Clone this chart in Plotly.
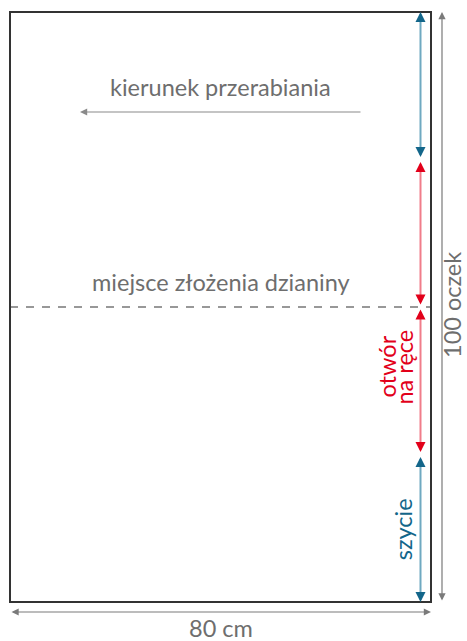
import plotly.graph_objects as go

# ---- data ----
width_cm = 80
height_stitches = 100
bounds = [0, 25, 50, 75, 100]          # vertical segment boundaries (stitches)
seg_kind = ["seam", "hole", "hole", "seam"]
fold_at = 50
width_label = "80 cm"
height_label = "100 oczek"
direction_label = "kierunek przerabiania"
fold_label = "miejsce złożenia dzianiny"
hole_label_lines = ["otwór", "na ręce"]
seam_label = "szycie"

# ---- styles ----
FONT = "Lato"
FS = 23.5
GRAY_TXT = "#6e6e6e"
GRAY_LN = "#7a7a7a"
BORDER = "#333333"
BLUE_DARK = "#13668a"
BLUE_LIGHT = "#6fa9c1"
RED_DARK = "#e2001a"
RED_LIGHT = "#f07d8a"

# pixel mapping
W, H = 467, 641
px_l, px_r, px_t, px_b = 10, 431, 12, 602
sx = (px_r - px_l) / width_cm
sy = (px_b - px_t) / height_stitches
xr = [-px_l / sx, width_cm + (W - px_r) / sx]
yr = [-(H - px_b) / sy, height_stitches + px_t / sy]

def dx(p):
    return p / sx

def dy(p):
    return p / sy

fig = go.Figure()
shapes = []
ann = []

# rectangle outline
shapes.append(dict(type="rect", x0=0, x1=width_cm, y0=0, y1=height_stitches,
                   line=dict(color=BORDER, width=2), layer="above"))
# fold line
fig.add_trace(go.Scatter(x=[0, width_cm], y=[fold_at, fold_at], mode="lines",
                         line=dict(color="#777777", width=1.3, dash="8px,8px"),
                         hoverinfo="skip", showlegend=False))

# segment arrows
arrow_x = width_cm - dx(10.5)
inset = dy(2.5)
for i, kind in enumerate(seg_kind):
    lo, hi = bounds[i], bounds[i + 1]
    lo_t = lo + (inset if i > 0 else 0)
    hi_t = hi - (inset if i < len(seg_kind) - 1 else 0)
    dark = BLUE_DARK if kind == "seam" else RED_DARK
    light = BLUE_LIGHT if kind == "seam" else RED_LIGHT
    fig.add_trace(go.Scatter(x=[arrow_x, arrow_x], y=[lo_t + dy(3), hi_t - dy(3)],
                             mode="lines", line=dict(color=light, width=2),
                             hoverinfo="skip", showlegend=False))
    for tip, off in ((hi_t, 5), (lo_t, -5)):
        ann.append(dict(x=arrow_x, y=tip, ax=0, ay=off, xref="x", yref="y",
                        axref="pixel", ayref="pixel", text="", showarrow=True,
                        arrowhead=2, arrowsize=1.0, arrowwidth=2, arrowcolor=dark))

# hole label (two rotated lines)
hole_mid = (bounds[1] + bounds[3]) / 2 - dy(60)
for j, line in enumerate(hole_label_lines):
    ann.append(dict(x=arrow_x - dx(34 - 17 * j), y=hole_mid,
                    text=line, showarrow=False, textangle=-90,
                    font=dict(family=FONT, size=FS, color=RED_DARK),
                    xanchor="center", yanchor="middle"))
# seam label
ann.append(dict(x=arrow_x - dx(17.5), y=(bounds[0] + bounds[1]) / 2 - dy(1),
                text=seam_label, showarrow=False, textangle=-90,
                font=dict(family=FONT, size=FS, color=BLUE_DARK),
                xanchor="center", yanchor="middle"))

# height dimension
hx = width_cm + dx(11)
ann.append(dict(x=hx, y=height_stitches, ax=hx, ay=0, xref="x", yref="y",
                axref="x", ayref="y", text="", showarrow=True, arrowside="end+start",
                arrowhead=2, arrowsize=1.2, arrowwidth=1.2, arrowcolor=GRAY_LN))
ann.append(dict(x=width_cm + dx(21), y=height_stitches / 2 + dy(2), text=height_label,
                showarrow=False, textangle=-90, borderpad=0,
                font=dict(family=FONT, size=FS, color=GRAY_TXT)))

# width dimension
wy = -dy(10)
ann.append(dict(x=width_cm, y=wy, ax=0, ay=wy, xref="x", yref="y",
                axref="x", ayref="y", text="", showarrow=True, arrowside="end+start",
                arrowhead=2, arrowsize=1.2, arrowwidth=1.2, arrowcolor=GRAY_LN))
ann.append(dict(x=width_cm / 2, y=-dy(26), text=width_label, showarrow=False,
                borderpad=0, font=dict(family=FONT, size=FS, color=GRAY_TXT)))

# direction arrow
dir_y = height_stitches - dy(100)
ann.append(dict(x=dx(70), y=dir_y, ax=dx(352), ay=dir_y, xref="x", yref="y",
                axref="x", ayref="y", text="", showarrow=True,
                arrowhead=2, arrowsize=1.2, arrowwidth=1.2, arrowcolor="#8a8a8a"))
ann.append(dict(x=width_cm / 2, y=height_stitches - dy(75), text=direction_label,
                showarrow=False, font=dict(family=FONT, size=FS, color=GRAY_TXT)))

# fold label
ann.append(dict(x=width_cm / 2, y=fold_at + dy(25), text=fold_label,
                showarrow=False, font=dict(family=FONT, size=FS, color=GRAY_TXT)))

fig.update_layout(
    width=W, height=H, margin=dict(l=0, r=0, t=0, b=0),
    paper_bgcolor="white", plot_bgcolor="white",
    xaxis=dict(range=xr, visible=False, fixedrange=True),
    yaxis=dict(range=yr, visible=False, fixedrange=True),
    shapes=shapes, annotations=ann, showlegend=False,
)
fig.write_html("out.html", config={"displayModeBar": False},
               post_script="document.body.style.margin='0';")
